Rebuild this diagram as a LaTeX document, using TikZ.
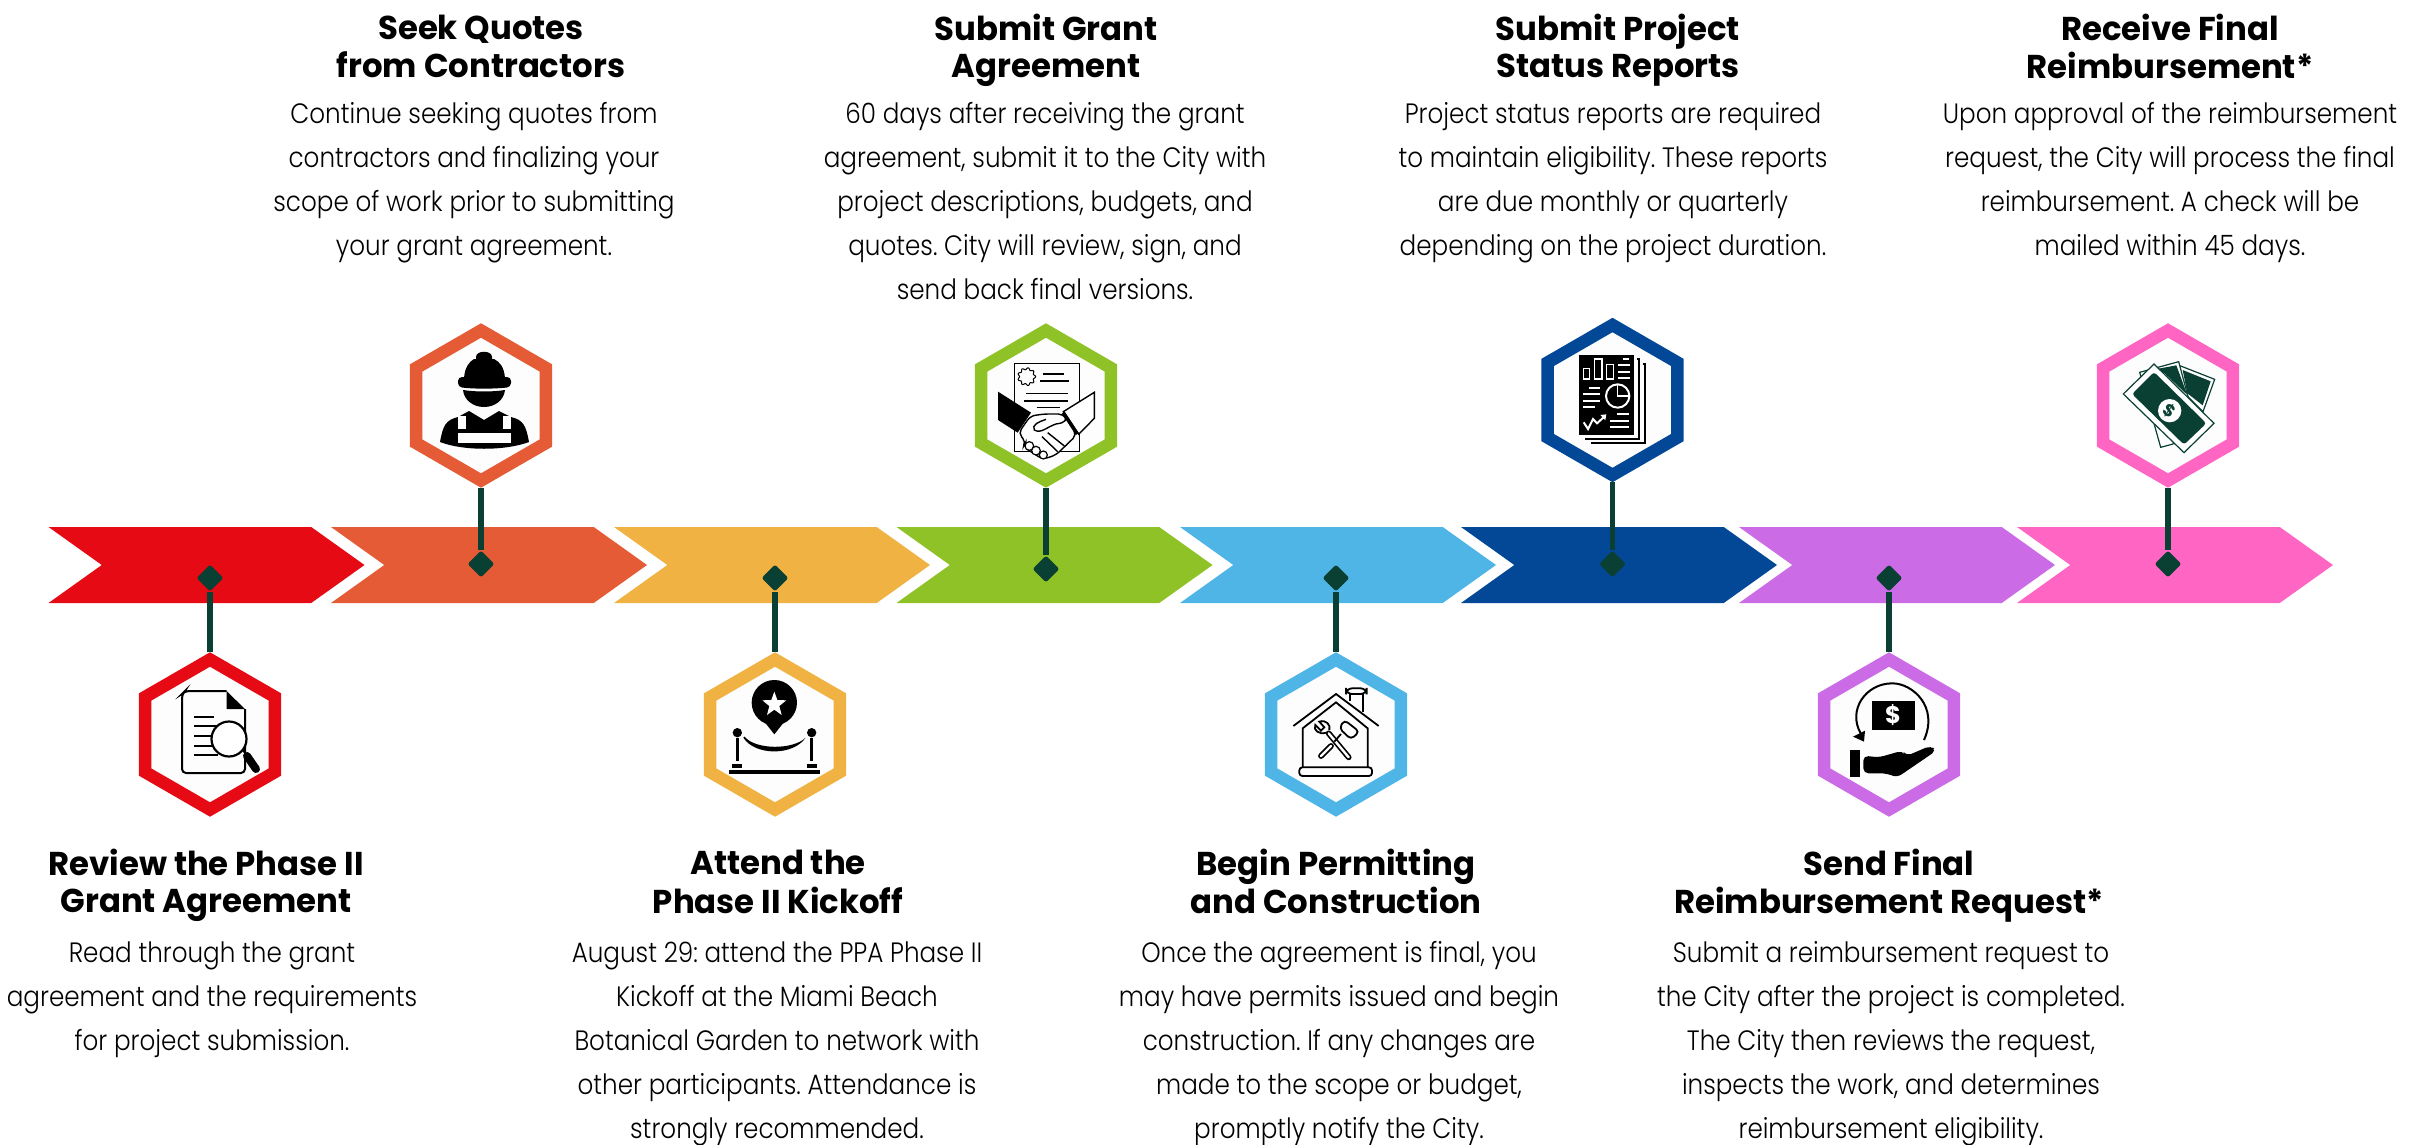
\documentclass[tikz,border=0pt]{standalone}
\usepackage{fontspec}
\setmainfont{Poppins}
\newfontfamily\titlefont[FakeStretch=0.98]{Poppins Bold}
\newfontfamily\bodyfont[FakeStretch=0.88]{Poppins Light}
\usetikzlibrary{shapes.geometric,shapes.symbols}
\definecolor{c1}{HTML}{E60A15}
\definecolor{c2}{HTML}{E55B35}
\definecolor{c3}{HTML}{F0B343}
\definecolor{c4}{HTML}{8FC227}
\definecolor{c5}{HTML}{4FB5E6}
\definecolor{c6}{HTML}{034897}
\definecolor{c7}{HTML}{CB6CE6}
\definecolor{c8}{HTML}{FF66C4}
\definecolor{pine}{HTML}{0A3F33}
\definecolor{paper}{HTML}{FDFDFD}
\frenchspacing
\begin{document}
\begin{tikzpicture}[x=1pt, y=-1pt,
    chevron node/.style={signal, signal to=east, signal from=west, signal pointer angle=71, minimum width=316pt, minimum height=76pt, inner sep=0pt, outer sep=0pt},
    hex node/.style={regular polygon, regular polygon sides=6, shape border rotate=30, minimum size=150pt, inner sep=0pt, line width=12.5pt, fill=paper},
    mark node/.style={diamond, aspect=1, fill=pine, minimum size=27pt, inner sep=0pt, rounded corners=2.5pt},
    stem/.style={pine, line width=5.5pt},
    title node/.style={anchor=north, align=center, inner sep=0pt, font=\fontsize{33}{36.4}\selectfont\titlefont},
    body node/.style={anchor=north, align=center, inner sep=0pt, font=\fontsize{28}{44}\selectfont\bodyfont},
    icon grid/.style={x=0.3333pt, y=-0.3333pt}]
    \useasboundingbox (0,0) rectangle (2430,1145);

    \node[chevron node, fill=c1] at (206.5, 565) (chev1) {};
    \node[chevron node, fill=c2] at (489, 565) (chev2) {};
    \node[chevron node, fill=c3] at (772, 565) (chev3) {};
    \node[chevron node, fill=c4] at (1054.5, 565) (chev4) {};
    \node[chevron node, fill=c5] at (1338, 565) (chev5) {};
    \node[chevron node, fill=c6] at (1619, 565) (chev6) {};
    \node[chevron node, fill=c7] at (1897, 565) (chev7) {};
    \node[chevron node, fill=c8] at (2175, 565) (chev8) {};

    \node[hex node, draw=c1] at (210, 734.5) (hex1) {};
    \node[hex node, draw=c2] at (481, 405.5) (hex2) {};
    \node[hex node, draw=c3] at (775, 734.5) (hex3) {};
    \node[hex node, draw=c4] at (1046, 405.5) (hex4) {};
    \node[hex node, draw=c5] at (1336, 734.5) (hex5) {};
    \node[hex node, draw=c6] at (1612.5, 400) (hex6) {};
    \node[hex node, draw=c7] at (1889, 734.5) (hex7) {};
    \node[hex node, draw=c8] at (2168, 405.5) (hex8) {};

    \node[mark node] at (210, 578) (mark1) {};
    \node[mark node] at (481, 564) (mark2) {};
    \node[mark node] at (775, 578) (mark3) {};
    \node[mark node] at (1046, 569) (mark4) {};
    \node[mark node] at (1336, 578) (mark5) {};
    \node[mark node] at (1612.5, 564) (mark6) {};
    \node[mark node] at (1889, 578) (mark7) {};
    \node[mark node] at (2168, 564) (mark8) {};

    \draw[stem] (hex1.north) -- (mark1);
    \draw[stem] (hex2.south) -- (mark2);
    \draw[stem] (hex3.north) -- (mark3);
    \draw[stem] (hex4.south) -- (mark4);
    \draw[stem] (hex5.north) -- (mark5);
    \draw[stem] (hex6.south) -- (mark6);
    \draw[stem] (hex7.north) -- (mark7);
    \draw[stem] (hex8.south) -- (mark8);

    \node[title node] at (206, 849) (title1) {\strut Review the Phase II\\Grant Agreement};
    \node[title node] at (481, 14) (title2) {\strut Seek Quotes\\from Contractors};
    \node[title node] at (778, 849) (title3) {\strut Attend the\\Phase II Kickoff};
    \node[title node] at (1046, 14) (title4) {\strut Submit Grant\\Agreement};
    \node[title node] at (1336, 849) (title5) {\strut Begin Permitting\\and Construction};
    \node[title node] at (1618, 14) (title6) {\strut Submit Project\\Status Reports};
    \node[title node] at (1889, 849) (title7) {\strut Send Final\\Reimbursement Request*};
    \node[title node] at (2170, 14) (title8) {\strut Receive Final\\Reimbursement*};

    \node[body node] at (212, 931) (text1) {\strut Read through the grant\\agreement and the requirements\\for project submission.};
    \node[body node] at (474, 92) (text2) {\strut Continue seeking quotes from\\contractors and finalizing your\\scope of work prior to submitting\\your grant agreement.};
    \node[body node] at (777, 931) (text3) {\strut August 29: attend the PPA Phase II\\Kickoff at the Miami Beach\\Botanical Garden to network with\\other participants. Attendance is\\strongly recommended.};
    \node[body node] at (1045, 92) (text4) {\strut 60 days after receiving the grant\\agreement, submit it to the City with\\project descriptions, budgets, and\\quotes. City will review, sign, and\\send back final versions.};
    \node[body node] at (1339, 931) (text5) {\strut Once the agreement is final, you\\may have permits issued and begin\\construction. If any changes are\\made to the scope or budget,\\promptly notify the City.};
    \node[body node] at (1613, 92) (text6) {\strut Project status reports are required\\to maintain eligibility. These reports\\are due monthly or quarterly\\depending on the project duration.};
    \node[body node] at (1891, 931) (text7) {\strut Submit a reimbursement request to\\the City after the project is completed.\\The City then reviews the request,\\inspects the work, and determines\\reimbursement eligibility.};
    \node[body node] at (2170, 92) (text8) {\strut Upon approval of the reimbursement\\request, the City will process the final\\reimbursement. A check will be\\mailed within 45 days.};

    % document and magnifier
    \draw[line width=2pt, rounded corners=4pt] (226.5,691) -- (185,691) -- (182,694) -- (182,773) -- (245,773) -- (245,709);
    \fill (226.5,691) -- (245,709) -- (226.5,709) -- cycle;
    \draw[line width=1.6pt] (194,717) -- (214,717);
    \draw[line width=1.6pt] (194,726) -- (217,726);
    \draw[line width=1.6pt] (194,736) -- (212,736);
    \draw[line width=1.6pt] (194,746) -- (212,746);
    \draw[line width=1.6pt] (194,755) -- (218,755);
    \filldraw[fill=white, line width=2.2pt] (229,739) circle (17.5);
    \draw[line width=2pt] (243,750) -- (248,757);
    \draw[line width=8pt, line cap=round] (247,756) -- (256,769);

    % worker
    \fill (476,372) -- (476,357) .. controls (476,350) and (492,350) .. (492,357) -- (492,372) -- cycle;
    \fill (464,378) .. controls (465,367) and (469,362) .. (474,359) -- (494,359) .. controls (500,362) and (504,367) .. (505,378) -- cycle;
    \fill[rounded corners=4pt] (458,377) -- (511,377) -- (511,387) .. controls (495,389) and (473,389) .. (458,387) -- cycle;
    \fill (463,390) .. controls (475,392) and (493,392) .. (505,390) .. controls (504,400) and (495,407) .. (484,407) .. controls (473,407) and (464,400) .. (463,390) -- cycle;
    \fill (469,411) -- (484,420) -- (499,411) -- (511,417) .. controls (523,420) and (526,425) .. (529,442) .. controls (505,451) and (463,451) .. (440,442) .. controls (443,425) and (446,420) .. (458,417) -- cycle;
    \fill[white] (458,416) rectangle (466,429);
    \fill[white] (503,416) rectangle (511,429);
    \fill[white] (458,433) rectangle (511,443);

    % star and rope
    \begin{scope}[shift={(715,670)}, icon grid]
        \fill (178,98) circle (68);
        \fill (148,155) -- (208,155) -- (178,193) -- cycle;
        \fill[white] (178,65) -- (187,90) -- (214,91) -- (193,108) -- (200,135) -- (178,119) -- (156,135) -- (163,108) -- (142,91) -- (169,90) -- cycle;
        \fill (67,188) circle (14);
        \fill (290,188) circle (14);
        \fill (62,205) rectangle (72,272);
        \fill (285,205) rectangle (295,272);
        \fill (52,282) rectangle (80,293);
        \fill (277,282) rectangle (305,293);
        \fill (42,300) rectangle (315,312);
        \fill (85,203) .. controls (120,258) and (235,258) .. (272,203) .. controls (235,240) and (120,240) .. (89,200) -- cycle;
    \end{scope}

    % agreement and handshake
    \begin{scope}[shift={(986,340)}, icon grid]
        \draw[line width=1.5pt] (85,290) -- (85,70) -- (280,70) -- (280,215);
        \draw[line width=1.5pt] (85,335) -- (85,280);
        \draw[line width=1.5pt] (85,335) -- (280,335) -- (280,280);
        \draw[line width=1pt] plot[domain=0:360, samples=73, smooth] ({122+(24+3*cos(9*\x))*cos(\x)}, {110+(24+3*cos(9*\x))*sin(\x)});
        \draw[line width=1.4pt] (170,102) -- (235,102);
        \draw[line width=1.4pt] (162,123) -- (248,123);
        \draw[line width=1.4pt] (120,161) -- (245,161);
        \draw[line width=1.4pt] (115,183) -- (245,183);
        \draw[line width=1.4pt] (152,203) -- (222,203);
        \fill (36,155) -- (135,218) -- (95,278) -- (36,240) -- cycle;
        \filldraw[fill=white, line width=1.4pt] (232,215) -- (325,157) -- (325,235) -- (278,283) -- cycle;
        \filldraw[fill=white, line width=1.4pt, rounded corners=5pt] (133,228) -- (97,280) -- (120,305) -- (112,320) -- (170,358) -- (210,345) -- (272,285) -- (232,222) -- (175,222) -- cycle;
        \draw[line width=1.4pt] (232,222) .. controls (245,240) and (240,248) .. (210,252) .. controls (180,262) and (165,282) .. (145,270) .. controls (135,255) and (160,245) .. (180,238);
        \draw[line width=1.4pt] (185,278) -- (235,318);
        \draw[line width=1.4pt] (168,290) -- (215,335);
        \filldraw[fill=white, line width=1.2pt] (130,318) circle (13);
        \filldraw[fill=white, line width=1.2pt] (150,332) circle (13);
        \filldraw[fill=white, line width=1.2pt] (172,345) circle (12);
        \draw[line width=3.5pt] (232,218) -- (274,282);
    \end{scope}

    % house and tools
    \begin{scope}[shift={(1276,670)}, icon grid]
        \draw[line width=1.8pt] (52,168) -- (180,72) -- (308,168);
        \draw[line width=1.8pt] (80,292) -- (80,175) -- (180,97) -- (275,175) -- (275,292);
        \draw[line width=1.8pt, rounded corners=3pt] (70,292) rectangle (288,318);
        \draw[line width=1.8pt] (222,92) -- (222,72);
        \draw[line width=1.8pt] (260,72) -- (260,125);
        \draw[line width=1.8pt, rounded corners=6pt] (222,72) -- (210,72) -- (210,55) -- (272,55) -- (272,72) -- (222,72);
        \draw[line width=5.8pt, line cap=round] (218,262) -- (158,190);
        \draw[white, line width=2.4pt, line cap=round] (218,262) -- (158,190);
        \draw[line width=1.8pt] (150,188) .. controls (130,195) and (110,180) .. (118,165) -- (135,182) -- (145,172) -- (130,155) .. controls (150,148) and (165,165) .. (160,180);
        \draw[line width=5.8pt, line cap=round] (135,258) -- (165,228);
        \draw[white, line width=2.4pt, line cap=round] (135,258) -- (165,228);
        \draw[line width=1.8pt] (175,215) -- (195,192);
        \filldraw[fill=white, line width=1.8pt, rounded corners=4pt] (205,150) -- (250,185) -- (225,208) -- (190,175) -- cycle;
    \end{scope}

    % report
    \begin{scope}[shift={(1552,335)}, icon grid]
        \fill (80,60) rectangle (245,300);
        \draw[line width=2pt] (255,72) -- (262,72) -- (262,313) -- (100,313);
        \draw[line width=2pt] (272,88) -- (280,88) -- (280,325) -- (118,325);
        \draw[white, line width=1.5pt] (95,100) rectangle (113,132);
        \draw[white, line width=1.5pt] (128,72) rectangle (150,132);
        \draw[white, line width=1.5pt] (163,88) rectangle (185,132);
        \draw[white, line width=2pt] (212,72) -- (232,72);
        \draw[white, line width=2pt] (198,91) -- (233,91);
        \draw[white, line width=2pt] (198,110) -- (233,110);
        \draw[white, line width=2pt] (198,130) -- (233,130);
        \draw[white, line width=2pt] (110,158) -- (143,158);
        \draw[white, line width=2pt] (92,178) -- (143,178);
        \draw[white, line width=2pt] (92,197) -- (143,197);
        \draw[white, line width=2pt] (92,217) -- (130,217);
        \draw[white, line width=2pt] (197,183) circle (35);
        \draw[white, line width=1.6pt] (197,150) -- (197,183) -- (230,183);
        \draw[white, line width=2pt] (95,262) -- (108,282) -- (123,252) -- (135,265) -- (158,244);
        \fill[white] (145,240) -- (163,238) -- (160,256) -- cycle;
        \draw[white, line width=2pt] (195,238) -- (232,238);
        \draw[white, line width=2pt] (175,257) -- (232,257);
        \draw[white, line width=2pt] (175,276) -- (232,276);
    \end{scope}

    % money returned to the hand
    \begin{scope}[shift={(1829,670)}, icon grid]
        \draw[line width=2pt] (285,210) .. controls (330,110) and (250,40) .. (190,40) .. controls (110,40) and (55,120) .. (95,190);
        \fill (72,200) -- (108,182) -- (105,215) -- cycle;
        \fill (128,92) rectangle (257,180);
        \node[white, font=\fontsize{24}{24}\selectfont\bfseries] at (192,136) (handsign) {\$};
        \fill (63,240) rectangle (93,320);
        \fill[rounded corners=5pt] (103,257) -- (150,262) -- (220,242) -- (232,258) -- (305,227) -- (322,242) -- (205,322) -- (170,310) -- (103,310) -- cycle;
    \end{scope}

    % banknotes
    \begin{scope}[shift={(2108,340)}, icon grid, pine]
        \filldraw[fill=white, line width=1.2pt] (218,78) -- (320,118) -- (285,215) -- (180,110) -- cycle;
        \fill (224,90) -- (308,124) -- (284,196) -- (238,160) -- cycle;
        \filldraw[fill=white, line width=1.2pt] (95,97) -- (212,65) -- (240,170) -- (195,312) -- (158,322) -- cycle;
        \fill (130,90) -- (205,76) -- (238,165) -- (170,100) -- cycle;
        \filldraw[fill=white, line width=1.2pt] (46,162) -- (138,72) -- (318,250) -- (228,338) -- cycle;
        \fill[rounded corners=3pt] (72,162) -- (138,96) -- (295,250) -- (228,314) -- cycle;
        \fill[white] (185,212) circle (35);
        \node[pine, rotate=-35, font=\fontsize{17}{17}\selectfont\bfseries] at (185,212) (notesign) {\$};
    \end{scope}
\end{tikzpicture}
\end{document}
